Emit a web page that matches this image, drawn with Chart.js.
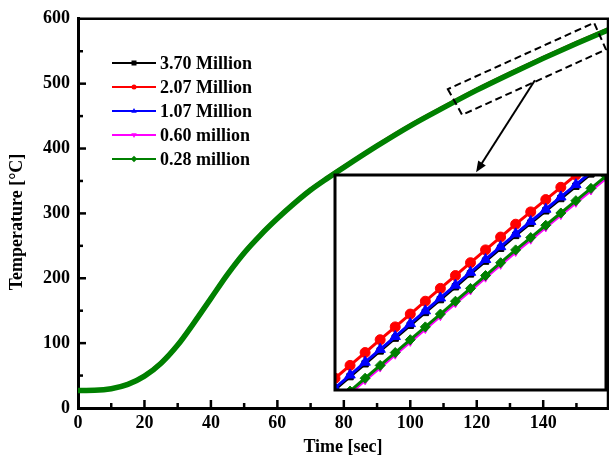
<!DOCTYPE html>
<html>
<head>
<meta charset="utf-8">
<script src="https://cdn.jsdelivr.net/npm/chart.js@4.4.0/dist/chart.umd.min.js"></script>
<style>
  html, body { margin: 0; padding: 0; background: #fff; }
  #wrap { position: relative; width: 609px; height: 468px; }
  #main { position: absolute; left: 0; top: 0; }
  #inset { position: absolute; left: 333px; top: 173px; }
</style>
</head>
<body>
<div id="wrap">
  <canvas id="main" width="609" height="468"></canvas>
  <canvas id="inset" width="275" height="219"></canvas>
</div>
<script>
  "use strict";

  // Series
  var seriesNames = ["3.70 Million", "2.07 Million", "1.07 Million", "0.60 million", "0.28 million"];
  var seriesColors = ["#000000", "#ff0000", "#0000ff", "#ff00ff", "#008000"];

  // Main plot data (time in sec, temperature in C)
  var timeSec = [0, 5, 10, 15, 20, 25, 30, 35, 40, 45, 50, 55, 60, 65, 70, 75, 80, 90, 100, 110, 120, 130, 140, 150, 160];
  var temp370 = [27, 27.4, 29.9, 36.8, 49.8, 69.8, 97.7, 132.7, 169.7, 206.7, 239.7, 267.7, 292.7, 315.7, 336.7, 354.7, 371.7, 404.7, 435.7, 463.7, 490.7, 515.7, 539.7, 562.7, 584.7];
  var temp207 = [27, 27.6, 30.2, 37.4, 50.5, 70.6, 98.6, 133.6, 170.6, 207.6, 240.6, 268.6, 293.6, 316.6, 337.6, 355.6, 372.6, 405.6, 436.6, 464.6, 491.6, 516.6, 540.6, 563.6, 585.6];
  var temp107 = [27, 27.5, 30, 37, 50, 70, 98, 133, 170, 207, 240, 268, 293, 316, 337, 355, 372, 405, 436, 464, 491, 516, 540, 563, 585];
  var temp060 = [27, 27.3, 29.6, 36.2, 48.8, 68.6, 96.6, 131.6, 168.6, 205.6, 238.6, 266.6, 291.6, 314.6, 335.6, 353.6, 370.6, 403.6, 434.6, 462.6, 489.6, 514.6, 538.6, 561.6, 583.6];
  var temp028 = [27, 27.3, 29.7, 36.4, 49.1, 69.0, 97.0, 132.0, 169.0, 206.0, 239.0, 267.0, 292.0, 315.0, 336.0, 354.0, 371.0, 404.0, 435.0, 463.0, 490.0, 515.0, 539.0, 562.0, 584.0];

  // Tick labels
  var xTicks = [0, 20, 40, 60, 80, 100, 120, 140];
  var yTicks = [0, 100, 200, 300, 400, 500, 600];

  // Inset (zoomed) data
  var insetTime = [128, 129, 130, 131, 132, 133, 134, 135, 136, 137, 138, 139, 140, 141, 142, 143, 144, 145, 146];
  var inset370 = [510.9, 513.3, 515.7, 518.1, 520.5, 522.9, 525.3, 527.7, 530.1, 532.5, 534.9, 537.3, 539.7, 542.0, 544.3, 546.6, 548.9, 551.2, 553.5];
  var inset207 = [513.0, 515.4, 517.8, 520.2, 522.6, 525.0, 527.4, 529.8, 532.2, 534.6, 537.0, 539.4, 541.8, 544.1, 546.4, 548.7, 551.0, 553.3, 555.6];
  var inset107 = [511.2, 513.6, 516.0, 518.4, 520.8, 523.2, 525.6, 528.0, 530.4, 532.8, 535.2, 537.6, 540.0, 542.3, 544.6, 546.9, 549.2, 551.5, 553.8];
  var inset060 = [507.8, 510.2, 512.6, 515.0, 517.4, 519.8, 522.2, 524.6, 527.0, 529.4, 531.8, 534.2, 536.6, 538.9, 541.2, 543.5, 545.8, 548.1, 550.4];
  var inset028 = [508.2, 510.6, 513.0, 515.4, 517.8, 520.2, 522.6, 525.0, 527.4, 529.8, 532.2, 534.6, 537.0, 539.3, 541.6, 543.9, 546.2, 548.5, 550.8];

  // Zoom box and arrow, in data units (time, temperature)
  var zoomBox = [[111.3, 491.6], [115.6, 451.9], [158.9, 552.7], [155.3, 593.9]];
  var zoomArrow = [[137.5, 505.3], [119.8, 363.4]];

  var FONT = "Liberation Serif, Times New Roman, serif";
  var mainSeries = [temp370, temp207, temp107, temp060, temp028];
  var insetSeries = [inset370, inset207, inset107, inset060, inset028];
  var markerStyles = ["rect", "circle", "triangle", "triangle", "rectRot"];
  var markerRot = [0, 0, 0, 180, 0];

  function pts(xs, ys) {
    return xs.map(function (x, i) { return { x: x, y: ys[i] }; });
  }

  function marker(ctx, style, x, y, r, rot) {
    ctx.beginPath();
    if (style === "circle") {
      ctx.arc(x, y, r, 0, Math.PI * 2);
    } else if (style === "rect") {
      ctx.rect(x - r, y - r, 2 * r, 2 * r);
    } else if (style === "rectRot") {
      ctx.moveTo(x, y - r * 1.3); ctx.lineTo(x + r * 1.3, y);
      ctx.lineTo(x, y + r * 1.3); ctx.lineTo(x - r * 1.3, y);
      ctx.closePath();
    } else {
      var s = rot ? -1 : 1;
      ctx.moveTo(x, y - s * r * 1.2);
      ctx.lineTo(x + r * 1.1, y + s * r * 0.7);
      ctx.lineTo(x - r * 1.1, y + s * r * 0.7);
      ctx.closePath();
    }
    ctx.fill();
  }

  var overlay = {
    id: "overlay",
    afterDraw: function (chart) {
      var ctx = chart.ctx;
      var a = chart.chartArea;
      var xs = chart.scales.x, ys = chart.scales.y;
      ctx.save();
      ctx.strokeStyle = "#000";
      ctx.fillStyle = "#000";

      // frame top / right
      ctx.lineWidth = 2.5;
      ctx.beginPath();
      ctx.moveTo(a.left, a.top); ctx.lineTo(a.right, a.top); ctx.lineTo(a.right, a.bottom);
      ctx.stroke();

      // inward ticks
      ctx.lineWidth = 2.5;
      for (var t = 10; t < 160; t += 10) {
        var px = xs.getPixelForValue(t);
        var len = t % 20 === 0 ? 8 : 5;
        ctx.beginPath(); ctx.moveTo(px, a.bottom); ctx.lineTo(px, a.bottom - len); ctx.stroke();
      }
      for (var v = 50; v < 600; v += 50) {
        var py = ys.getPixelForValue(v);
        var l2 = v % 100 === 0 ? 8 : 5;
        ctx.beginPath(); ctx.moveTo(a.left, py); ctx.lineTo(a.left + l2, py); ctx.stroke();
      }

      // axis titles
      ctx.font = "bold 18px " + FONT;
      ctx.textAlign = "center";
      ctx.textBaseline = "middle";
      ctx.fillText("Time [sec]", (a.left + a.right) / 2, 447);
      ctx.save();
      ctx.translate(17, 222);
      ctx.rotate(-Math.PI / 2);
      ctx.fillText("Temperature [\u00B0C]", 0, 0);
      ctx.restore();

      // legend
      ctx.textAlign = "left";
      ctx.font = "bold 18px " + FONT;
      for (var i = 0; i < seriesNames.length; i++) {
        var ly = 63 + i * 24;
        ctx.strokeStyle = seriesColors[i];
        ctx.fillStyle = seriesColors[i];
        ctx.lineWidth = 2;
        ctx.beginPath(); ctx.moveTo(112, ly); ctx.lineTo(156, ly); ctx.stroke();
        marker(ctx, markerStyles[i], 134, ly, 2.5, markerRot[i]);
        ctx.fillStyle = "#000";
        ctx.fillText(seriesNames[i], 160, ly + 1);
      }

      // dashed zoom box
      ctx.strokeStyle = "#000";
      ctx.lineWidth = 2;
      ctx.setLineDash([7, 4]);
      ctx.beginPath();
      zoomBox.forEach(function (p, k) {
        var bx = xs.getPixelForValue(p[0]), by = ys.getPixelForValue(p[1]);
        if (k === 0) ctx.moveTo(bx, by); else ctx.lineTo(bx, by);
      });
      ctx.closePath();
      ctx.stroke();
      ctx.setLineDash([]);

      // arrow
      var x1 = xs.getPixelForValue(zoomArrow[0][0]), y1 = ys.getPixelForValue(zoomArrow[0][1]);
      var x2 = xs.getPixelForValue(zoomArrow[1][0]), y2 = ys.getPixelForValue(zoomArrow[1][1]);
      var ang = Math.atan2(y2 - y1, x2 - x1);
      ctx.lineWidth = 2;
      ctx.beginPath(); ctx.moveTo(x1, y1); ctx.lineTo(x2 - 6 * Math.cos(ang), y2 - 6 * Math.sin(ang)); ctx.stroke();
      ctx.beginPath();
      ctx.moveTo(x2, y2);
      ctx.lineTo(x2 - 11 * Math.cos(ang) + 4.5 * Math.sin(ang), y2 - 11 * Math.sin(ang) - 4.5 * Math.cos(ang));
      ctx.lineTo(x2 - 11 * Math.cos(ang) - 4.5 * Math.sin(ang), y2 - 11 * Math.sin(ang) + 4.5 * Math.cos(ang));
      ctx.closePath();
      ctx.fill();
      ctx.restore();
    }
  };

  // Main chart
  var mainChart = new Chart(document.getElementById("main").getContext("2d"), {
    type: "line",
    data: {
      datasets: mainSeries.map(function (arr, i) {
        return {
          label: seriesNames[i],
          data: pts(timeSec, arr),
          borderColor: seriesColors[i],
          backgroundColor: seriesColors[i],
          borderWidth: i === 4 ? 5.5 : 3,
          pointRadius: 0,
          cubicInterpolationMode: "monotone",
          order: 5 - i,
        };
      }),
    },
    options: {
      responsive: false,
      animation: false,
      layout: { autoPadding: false, padding: { top: 15, right: 1, left: 0, bottom: 0 } },
      plugins: { legend: { display: false }, tooltip: { enabled: false } },
      scales: {
        x: {
          type: "linear",
          min: 0,
          max: 159.5,
          afterBuildTicks: function (s) { s.ticks = xTicks.map(function (v) { return { value: v }; }); },
          afterFit: function (s) { s.height = 60; },
          grid: { display: false, drawTicks: false },
          border: { display: true, color: "#000", width: 3 },
          ticks: { color: "#000", padding: 5, maxRotation: 0, font: { family: FONT, size: 18, weight: "bold" } },
        },
        y: {
          type: "linear",
          min: 0,
          max: 600,
          afterBuildTicks: function (s) { s.ticks = yTicks.map(function (v) { return { value: v }; }); },
          afterFit: function (s) { s.width = 78; },
          grid: { display: false, drawTicks: false },
          border: { display: true, color: "#000", width: 3 },
          ticks: { color: "#000", padding: 8, font: { family: FONT, size: 18, weight: "bold" } },
        },
      },
    },
    plugins: [overlay],
  });

  // Inset chart
  var insetFrame = {
    id: "insetFrame",
    beforeDraw: function (chart) {
      var ctx = chart.ctx, a = chart.chartArea;
      ctx.save();
      ctx.fillStyle = "#fff";
      ctx.fillRect(a.left, a.top, a.right - a.left, a.bottom - a.top);
      ctx.restore();
    },
    afterDraw: function (chart) {
      var ctx = chart.ctx, a = chart.chartArea;
      ctx.save();
      ctx.strokeStyle = "#000";
      ctx.lineWidth = 3;
      ctx.strokeRect(a.left, a.top, a.right - a.left, a.bottom - a.top);
      ctx.restore();
    },
  };

  var insetRadius = [4.5, 5, 6, 4.5, 5];
  var insetChart = new Chart(document.getElementById("inset").getContext("2d"), {
    type: "line",
    data: {
      datasets: insetSeries.map(function (arr, i) {
        return {
          label: seriesNames[i],
          data: pts(insetTime, arr),
          borderColor: seriesColors[i],
          backgroundColor: seriesColors[i],
          borderWidth: 3,
          pointStyle: markerStyles[i],
          pointRotation: markerRot[i],
          pointRadius: insetRadius[i],
          pointBorderWidth: 1,
          order: 5 - i,
        };
      }),
    },
    options: {
      responsive: false,
      animation: false,
      layout: { autoPadding: false, padding: 2 },
      plugins: { legend: { display: false }, tooltip: { enabled: false } },
      scales: {
        x: { type: "linear", display: false, min: 128, max: 146 },
        y: { type: "linear", display: false, min: 510.8, max: 551 },
      },
    },
    plugins: [insetFrame],
  });
</script>
</body>
</html>
